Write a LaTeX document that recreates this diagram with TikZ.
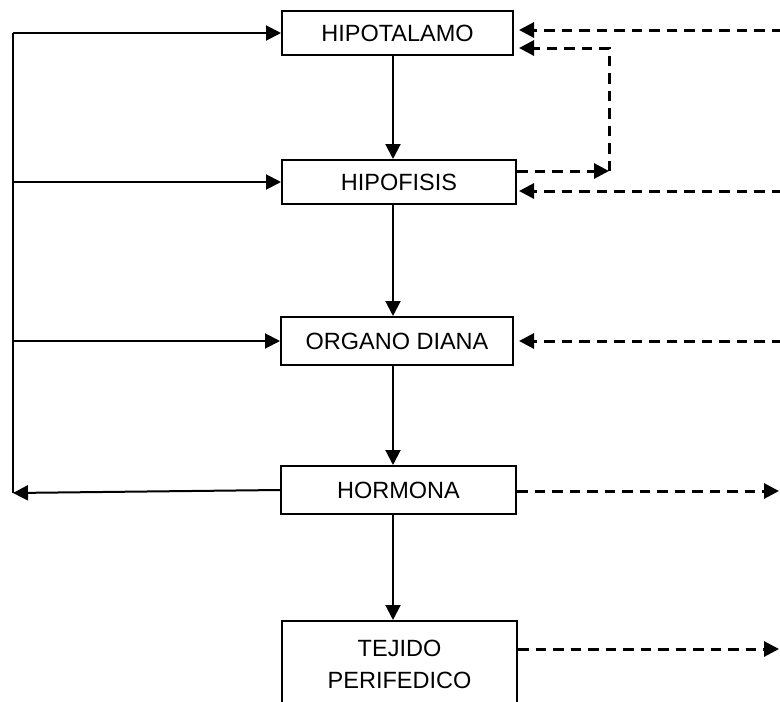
\documentclass[tikz,border=0pt]{standalone}
\usepackage{fontspec}
\setmainfont{Liberation Sans}
\usetikzlibrary{arrows.meta}
\begin{document}
\begin{tikzpicture}[x=1pt,y=-1pt,
  box/.style={draw, line width=2pt, minimum width=#1, inner sep=0pt, font=\fontsize{23.5}{32}\selectfont, align=center},
  sarrow/.style={line width=2pt, -{Triangle[length=15pt,width=15pt]}},
  sline/.style={line width=2pt},
  darrow/.style={line width=3pt, dash pattern=on 10.5pt off 7pt, -{Triangle[length=15pt,width=15pt]}},
  dline/.style={line width=3pt, dash pattern=on 10.5pt off 7pt}]
\clip (0,0) rectangle (780,702);
\fill[white] (0,0) rectangle (780,702);
% boxes
\node[box=231pt, minimum height=44pt] (hipotalamo) at (397.5,33) {HIPOTALAMO};
\node[box=234pt, minimum height=44pt] (hipofisis) at (399,182) {HIPOFISIS};
\node[box=232pt, minimum height=48pt] (organo) at (397,341) {ORGANO DIANA};
\node[box=235pt, minimum height=48pt] (hormona) at (398.5,490) {HORMONA};
\node[box=235pt, minimum height=86pt] (tejido) at (399.5,664) {TEJIDO\\PERIFEDICO};
% vertical solid arrows
\coordinate (c1) at (393,0);
\draw[sarrow] (hipotalamo.south -| c1) -- (hipofisis.north -| c1);
\draw[sarrow] (hipofisis.south -| c1) -- (organo.north -| c1);
\draw[sarrow] (organo.south -| c1) -- (hormona.north -| c1);
\draw[sarrow] (hormona.south -| c1) -- (tejido.north -| c1);
% left feedback
\coordinate (L1) at (13,33);
\coordinate (L2) at (13,182);
\coordinate (L3) at (13,341);
\coordinate (L4) at (13,493);
\draw[sline] (L1) -- (L4);
\draw[sarrow] (L1) -- (L1 -| hipotalamo.west);
\draw[sarrow] (L2) -- (L2 -| hipofisis.west);
\draw[sarrow] (L3) -- (L3 -| organo.west);
\draw[sarrow] (hormona.west) -- (L4);
% right dashed
\coordinate (R1) at (782,30);
\coordinate (V1) at (609,48);
\coordinate (V2) at (609,171);
\coordinate (H2) at (516,171);
\coordinate (R2) at (782,191);
\coordinate (R3) at (782,341);
\coordinate (R4) at (779,491);
\coordinate (R5) at (779,649);
\draw[darrow, shorten >=5pt] (R1) -- (R1 -| hipotalamo.east);
\draw[darrow, shorten >=5pt] (V2) -- (V1) -- (V1 -| hipotalamo.east);
\draw[darrow] (H2 -| hipofisis.east) -- (V2);
\draw[darrow, shorten >=2pt] (R2) -- (R2 -| hipofisis.east);
\draw[darrow, shorten >=5pt] (R3) -- (R3 -| organo.east);
\draw[darrow] (R4 -| hormona.east) -- (R4);
\draw[darrow] (R5 -| tejido.east) -- (R5);
\end{tikzpicture}
\end{document}
